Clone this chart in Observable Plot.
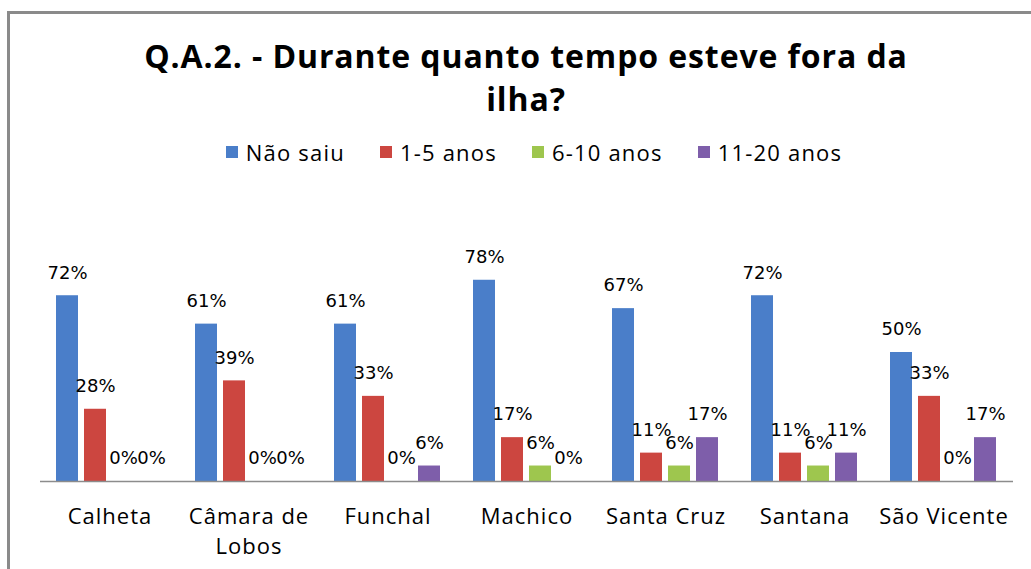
<!DOCTYPE html>
<html>
<head>
<meta charset="utf-8">
<script src="https://cdn.jsdelivr.net/npm/d3@7"></script>
<script src="https://cdn.jsdelivr.net/npm/@observablehq/plot@0.6"></script>
<style>
  html, body { margin: 0; padding: 0; background: #fff; }
  #wrap { position: relative; width: 1031px; height: 569px; overflow: hidden; background: #fff; }
  #frame { position: absolute; left: 7px; top: 11px; width: 1040px; height: 600px; border-left: 3px solid #8a8a8a; border-top: 3px solid #8a8a8a; box-sizing: border-box; }
  #title { position: absolute; left: 0; top: 34px; width: 1052px; text-align: center; font-family: "Open Sans", sans-serif; font-weight: 700; font-size: 32px; letter-spacing: 0.9px; line-height: 43px; color: #000; }
  #legend { position: absolute; left: 0; top: 137px; width: 1068px; display: flex; justify-content: center; gap: 35px; font-family: "Open Sans", sans-serif; font-size: 22px; letter-spacing: 1.2px; color: #000; }
  #legend .item { display: flex; align-items: center; gap: 8px; }
  #legend .sw { width: 12px; height: 12px; display: inline-block; }
  #chart { position: absolute; left: 0; top: 170px; }
  #chart svg g[aria-label="fx-axis tick label"] text { letter-spacing: 1px; }
</style>
</head>
<body>
<div id="wrap">
  <div id="frame"></div>
  <div id="title">Q.A.2. - Durante quanto tempo esteve fora da<br>ilha?</div>
  <div id="legend"></div>
  <div id="chart"></div>
</div>
<script>
const categories = ["Calheta", "Câmara de Lobos", "Funchal", "Machico", "Santa Cruz", "Santana", "São Vicente"];
const seriesNames = ["Não saiu", "1-5 anos", "6-10 anos", "11-20 anos"];
const seriesColors = ["#4a7ec9", "#cc4640", "#9ec64e", "#7e5eaa"];
const naoSaiu   = [0.72, 0.61, 0.61, 0.78, 0.67, 0.72, 0.50];
const anos1a5   = [0.28, 0.39, 0.33, 0.17, 0.11, 0.11, 0.33];
const anos6a10  = [0.00, 0.00, 0.00, 0.06, 0.06, 0.06, 0.00];
const anos11a20 = [0.00, 0.00, 0.06, 0.00, 0.17, 0.11, 0.17];
const seriesValues = [naoSaiu, anos1a5, anos6a10, anos11a20];

const data = [];
categories.forEach((c, i) => {
  seriesNames.forEach((s, j) => {
    data.push({cat: c, series: s, value: seriesValues[j][i]});
  });
});

// legend
const legend = document.getElementById("legend");
seriesNames.forEach((s, j) => {
  const it = document.createElement("div");
  it.className = "item";
  it.innerHTML = `<span class="sw" style="background:${seriesColors[j]}"></span><span>${s}</span>`;
  legend.appendChild(it);
});

const chart = Plot.plot({
  width: 1031,
  height: 399,
  marginLeft: 40,
  marginRight: 18,
  marginTop: 53,
  marginBottom: 88,
  style: {fontFamily: "'Open Sans', sans-serif", background: "transparent"},
  fx: {domain: categories, padding: 0, label: null},
  x: {domain: seriesNames, paddingInner: 0.214, paddingOuter: 0.589, axis: null},
  y: {domain: [0, 1], axis: null},
  color: {domain: seriesNames, range: seriesColors},
  marks: [
    Plot.barY(data, {fx: "cat", x: "series", y: "value", fill: "series"}),
    Plot.ruleY([0], {stroke: "#8c8c8c", strokeWidth: 1.5}),
    Plot.text(data, {fx: "cat", x: "series", y: "value", text: d => Math.round(d.value * 100) + "%", dy: -23, lineAnchor: "middle", fontSize: 18, fill: "#000", fontFamily: "'DejaVu Sans', sans-serif"}),
    Plot.axisFx({anchor: "bottom", tickSize: 0, tickPadding: 21, fontSize: 22, lineHeight: 1.38, fill: "#000", label: null,
      tickFormat: d => d === "Câmara de Lobos" ? "Câmara de\nLobos" : d})
  ]
});
document.getElementById("chart").appendChild(chart);
</script>
</body>
</html>
